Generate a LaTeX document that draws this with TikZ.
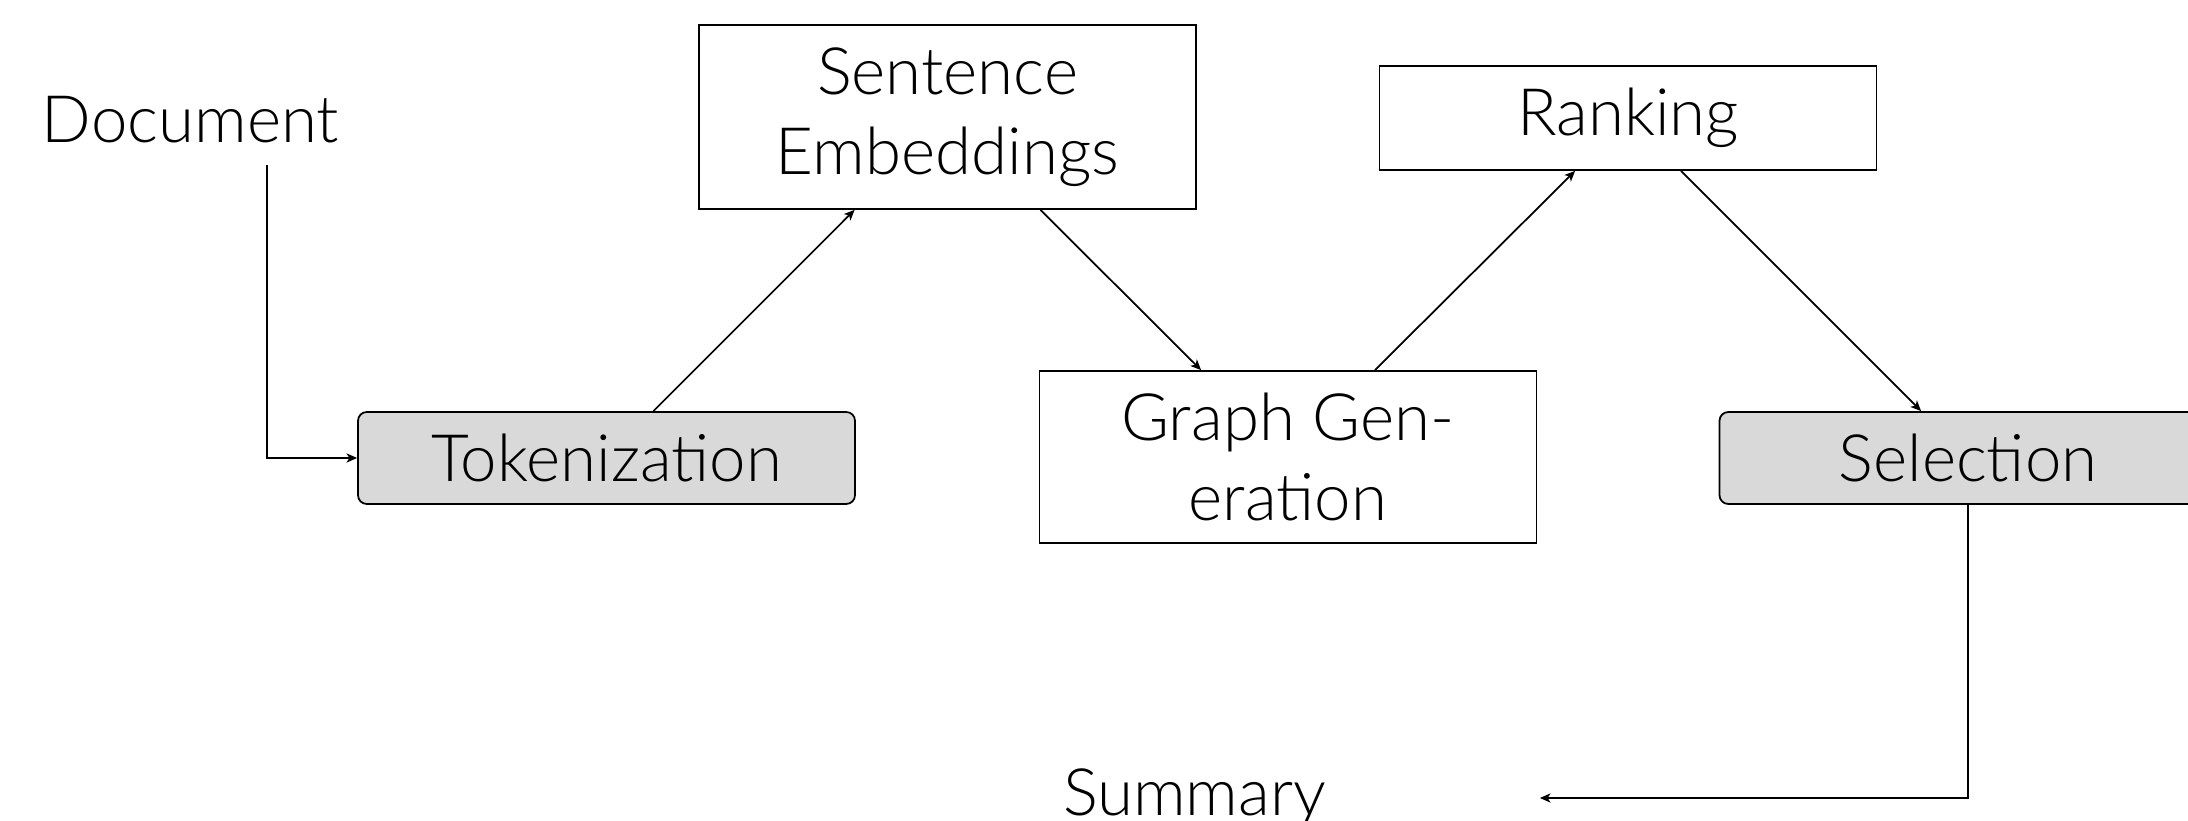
\documentclass[tikz,border=0pt]{standalone}
\usepackage{fontspec}
\setmainfont{Lato Light}
\usetikzlibrary{arrows.meta}

\begin{document}
\begin{tikzpicture}[
    font=\fontsize{18.6}{22.7}\selectfont,
    line width=0.5pt,
    >={Stealth[length=3pt,width=2.6pt,inset=0.8pt]},
    stage/.style={draw, align=center, minimum width=4.97cm},
    tool/.style={stage, fill=black!15, rounded corners=2.5pt, minimum height=0.92cm},
  ]
  \useasboundingbox (0,0) rectangle (21.88,-8.21);
  \node (doc) [anchor=base] at (1.905,-1.43) {Document};
  \node (tok) [tool] at (6.065,-4.58) {Tokenization};
  \node (se) [stage, minimum height=1.84cm] at (9.475,-1.17) {Sentence\\Embeddings};
  \node (gg) [stage, minimum height=1.72cm] at (12.88,-4.57) {Graph Gen-\\eration};
  \node (rank) [stage, minimum height=1.04cm] at (16.28,-1.18) {Ranking};
  \node (sel) [tool] at (19.68,-4.58) {Selection};
  \node (sum) [minimum width=6.89cm] at (11.945,-7.98) {Summary};
  \draw [->] ([xshift=7.65mm,yshift=-0.9mm]doc.south) |- (tok.west);
  \draw [->] (tok.45) to (se.225);
  \draw [->] (se.315) to (gg.135);
  \draw [->] (gg.45) to (rank.225);
  \draw [->] (rank.315) to (sel.135);
  \draw [->] (sel.south) |- (sum.east);
\end{tikzpicture}
\end{document}
